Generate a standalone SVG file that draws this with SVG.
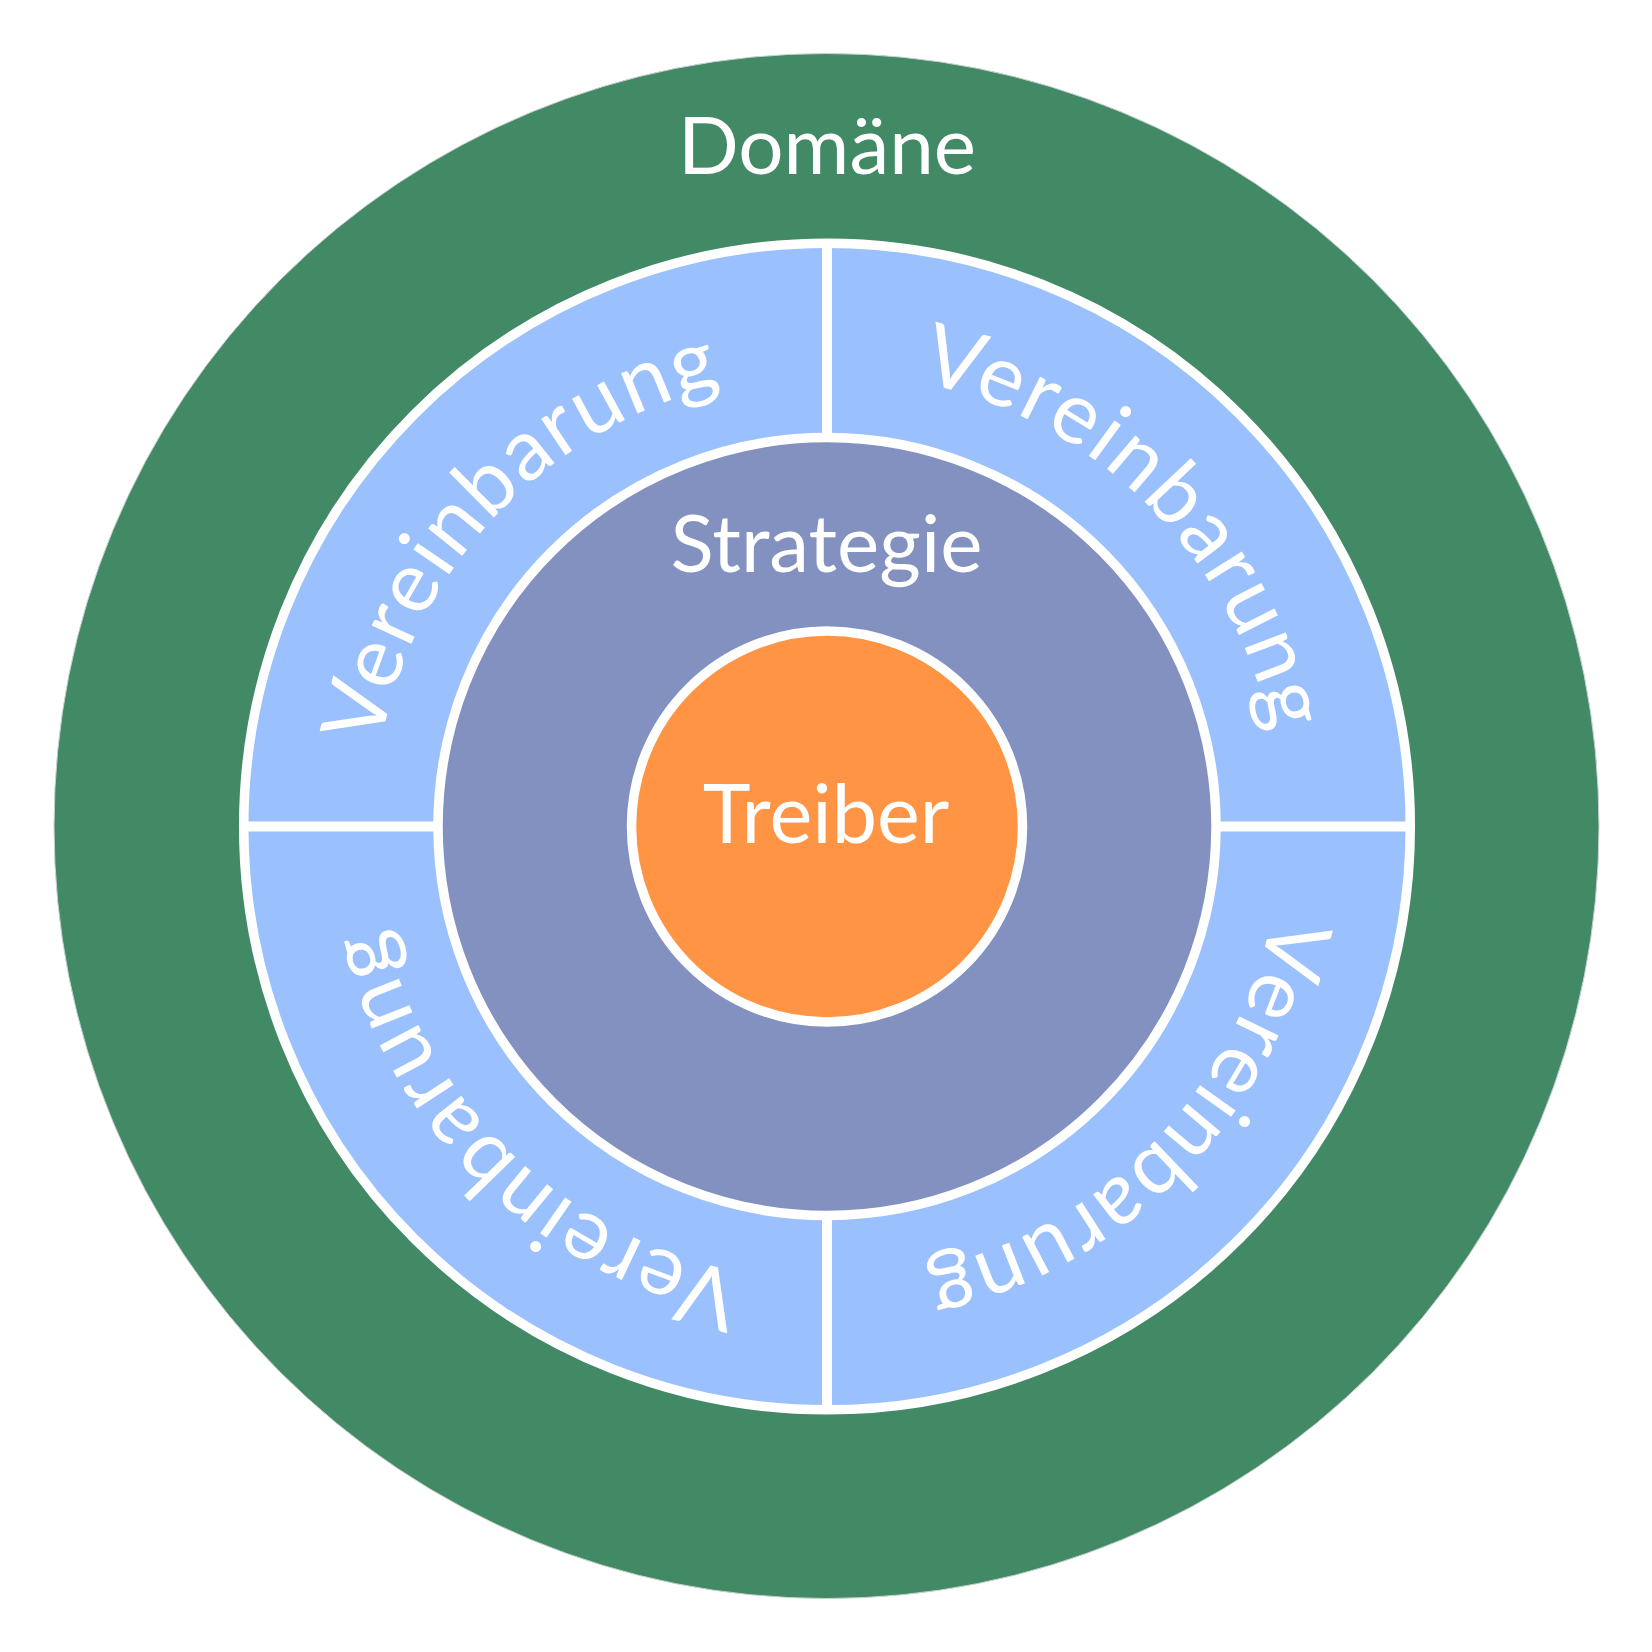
<svg xmlns="http://www.w3.org/2000/svg" xmlns:xlink="http://www.w3.org/1999/xlink" width="1652" height="1652" viewBox="0 0 1652 1652">
  <style>
    .lbl { font-family: Lato, "Liberation Sans", "DejaVu Sans", sans-serif; fill: #ffffff; }
    .ring { stroke: #ffffff; stroke-width: 9.5; }
    .div { stroke: #ffffff; stroke-width: 10; fill: none; }
    .arc { font-size: 86px; letter-spacing: 2px; }
  </style>
  <defs>
    <path id="arcTop" d="M 373 826.5 A 454 454 0 0 1 1281 826.5"/>
  </defs>
  <rect width="1652" height="1652" fill="#ffffff"/>
  <g id="domain">
    <circle cx="826.5" cy="826" r="772.5" fill="#428966" stroke="#c9d3ce" stroke-width="1"/>
    <text class="lbl" x="827" y="174" font-size="80" text-anchor="middle">Domäne</text>
  </g>
  <g id="agreements">
    <circle class="ring" cx="827" cy="826.5" r="583.3" fill="#9bc0fe"/>
  </g>
  <g id="strategy">
    <circle class="ring" cx="827" cy="826.5" r="389" fill="#8391c0"/>
    <text class="lbl" x="826.5" y="572" font-size="80" text-anchor="middle">Strategie</text>
  </g>
  <g id="connectors">
    <line class="div" x1="827" y1="243" x2="827" y2="437"/>
    <line class="div" x1="827" y1="1216" x2="827" y2="1410"/>
    <line class="div" x1="243.5" y1="826.5" x2="437.5" y2="826.5"/>
    <line class="div" x1="1216" y1="826.5" x2="1410" y2="826.5"/>
  </g>
  <g id="agreement-ne" transform="rotate(45 827 826.5)">
    <text class="lbl arc"><textPath xlink:href="#arcTop" href="#arcTop" startOffset="50%" text-anchor="middle">Vereinbarung</textPath></text>
  </g>
  <g id="agreement-se" transform="rotate(134.5 827 826.5)">
    <text class="lbl arc"><textPath xlink:href="#arcTop" href="#arcTop" startOffset="50%" text-anchor="middle">Vereinbarung</textPath></text>
  </g>
  <g id="agreement-sw" transform="rotate(224 827 826.5)">
    <text class="lbl arc"><textPath xlink:href="#arcTop" href="#arcTop" startOffset="50%" text-anchor="middle">Vereinbarung</textPath></text>
  </g>
  <g id="agreement-nw" transform="rotate(313.5 827 826.5)">
    <text class="lbl arc"><textPath xlink:href="#arcTop" href="#arcTop" startOffset="50%" text-anchor="middle">Vereinbarung</textPath></text>
  </g>
  <g id="driver">
    <circle class="ring" cx="827" cy="826.5" r="195.5" fill="#ff9544"/>
    <text class="lbl" x="826" y="843" font-size="81" text-anchor="middle">Treiber</text>
  </g>
</svg>
